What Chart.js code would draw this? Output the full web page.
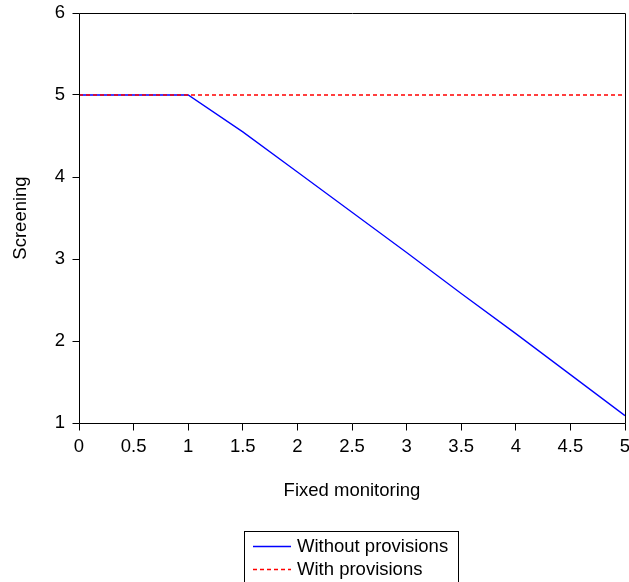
<!DOCTYPE html>
<html>
<head>
<meta charset="utf-8">
<script src="https://cdn.jsdelivr.net/npm/chart.js@4/dist/chart.umd.min.js"></script>
<style>
  html, body { margin: 0; padding: 0; background: #fff; }
  #wrap { width: 629px; height: 582px; }
</style>
</head>
<body>
<div id="wrap"><canvas id="c" width="629" height="582"></canvas></div>
<script>
const xValues = [0, 0.5, 1, 1.5, 2, 2.5, 3, 3.5, 4, 4.5, 5];
const withoutProvisions = [5, 5, 5, 4.55, 4.06, 3.57, 3.08, 2.58, 2.09, 1.59, 1.09];
const withProvisions = [5, 5, 5, 5, 5, 5, 5, 5, 5, 5, 5];
const seriesNames = ['Without provisions', 'With provisions'];
const xTicks = [0, 0.5, 1, 1.5, 2, 2.5, 3, 3.5, 4, 4.5, 5];
const yTicks = [1, 2, 3, 4, 5, 6];

const FONT = "'Liberation Sans', Arial, Helvetica, sans-serif";
const FS = 18.5;
const TICK_LEN = 7;
const COLORS = ['#0000ff', '#ff0000'];
const DASHES = [[], [4, 3]];

function al(p) { return Math.round(p - 0.5) + 0.5; }

const frame = {
  id: 'frame',
  afterDraw(chart) {
    const {ctx, chartArea: a} = chart;
    const xs = chart.scales.x, ys = chart.scales.y;
    const L = al(a.left), R = al(a.right), T = al(a.top), B = al(a.bottom);
    ctx.save();
    ctx.strokeStyle = '#000';
    ctx.lineWidth = 1;
    ctx.beginPath();
    ctx.moveTo(L, T); ctx.lineTo(R, T); ctx.lineTo(R, B); ctx.lineTo(L, B); ctx.closePath();
    ctx.stroke();
    ctx.beginPath();
    xs.ticks.forEach(t => {
      const px = al(xs.getPixelForValue(t.value));
      ctx.moveTo(px, B); ctx.lineTo(px, B + TICK_LEN);
    });
    ys.ticks.forEach(t => {
      const py = al(ys.getPixelForValue(t.value));
      ctx.moveTo(L - TICK_LEN, py); ctx.lineTo(L, py);
    });
    ctx.stroke();
    ctx.restore();
  }
};

const boxLegend = {
  id: 'boxLegend',
  afterDraw(chart) {
    const ctx = chart.ctx;
    ctx.save();
    ctx.setLineDash([]);
    ctx.strokeStyle = '#000';
    ctx.lineWidth = 1;
    ctx.strokeRect(244.5, 531.5, 214, 70);
    const rows = [546, 569];
    seriesNames.forEach((name, i) => {
      const y = rows[i] + 0.5;
      ctx.save();
      ctx.beginPath();
      ctx.strokeStyle = COLORS[i];
      ctx.lineWidth = 1.3;
      ctx.setLineDash(DASHES[i]);
      ctx.moveTo(253, y);
      ctx.lineTo(291, y);
      ctx.stroke();
      ctx.restore();
      ctx.save();
      ctx.font = FS + 'px ' + FONT;
      ctx.textBaseline = 'middle';
      ctx.fillStyle = '#000';
      ctx.fillText(name, 297, rows[i] + 1);
      ctx.restore();
    });
    ctx.restore();
  }
};

new Chart(document.getElementById('c'), {
  type: 'line',
  data: {
    datasets: [
      {
        label: seriesNames[0],
        data: xValues.map((x, i) => ({x: x, y: withoutProvisions[i]})),
        borderColor: COLORS[0],
        borderWidth: 1.3,
        pointRadius: 0,
        tension: 0,
        fill: false,
        order: 1
      },
      {
        label: seriesNames[1],
        data: xValues.map((x, i) => ({x: x, y: withProvisions[i]})),
        borderColor: COLORS[1],
        borderWidth: 1.3,
        borderDash: DASHES[1],
        pointRadius: 0,
        tension: 0,
        fill: false,
        order: 0
      }
    ]
  },
  options: {
    responsive: false,
    animation: false,
    devicePixelRatio: 1,
    layout: { padding: { left: 0, top: 13, right: 4, bottom: 0 } },
    plugins: {
      legend: { display: false },
      tooltip: { enabled: false }
    },
    scales: {
      x: {
        type: 'linear',
        min: 0,
        max: 5,
        afterBuildTicks(scale) { scale.ticks = xTicks.map(v => ({value: v})); },
        afterFit(scale) { scale.height = 159; scale.paddingRight = 0; scale.paddingLeft = 0; },
        grid: { display: true, drawOnChartArea: false, drawTicks: true, tickLength: TICK_LEN, color: 'rgba(0,0,0,0)' },
        border: { display: false },
        ticks: { color: '#000', font: { family: FONT, size: FS }, padding: 6, maxRotation: 0,
                 callback: v => String(v) },
        title: { display: true, text: 'Fixed monitoring', color: '#000',
                 font: { family: FONT, size: FS }, padding: { top: 0, bottom: 80 } }
      },
      y: {
        type: 'linear',
        min: 1,
        max: 6,
        afterBuildTicks(scale) { scale.ticks = yTicks.map(v => ({value: v})); },
        afterFit(scale) { scale.width = 79; scale.paddingTop = 0; scale.paddingBottom = 0; },
        grid: { display: true, drawOnChartArea: false, drawTicks: true, tickLength: TICK_LEN, color: 'rgba(0,0,0,0)' },
        border: { display: false },
        ticks: { color: '#000', font: { family: FONT, size: FS }, padding: 7,
                 callback: v => String(v) },
        title: { display: true, text: 'Screening', color: '#000',
                 font: { family: FONT, size: FS }, padding: { top: 10, bottom: 0 } }
      }
    }
  },
  plugins: [frame, boxLegend]
});
</script>
</body>
</html>
